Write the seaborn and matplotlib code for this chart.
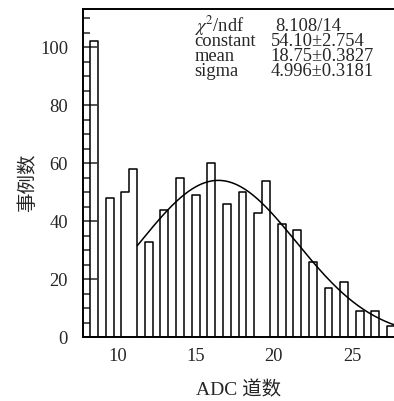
import numpy as np
import pandas as pd
import matplotlib
matplotlib.use("Agg")
import matplotlib.pyplot as plt
import seaborn as sns

# histogram contents (bin centre -> events), empty bins are left out
bin_centers = [8.5, 9.5, 10.5, 11.0, 12.0, 13.0, 14.0, 15.0, 16.0, 17.0, 18.0,
               19.0, 19.5, 20.5, 21.5, 22.5, 23.5, 24.5, 25.5, 26.5, 27.5]
bin_counts = [102, 48, 50, 58, 33, 44, 55, 49, 60, 46, 50,
              43, 54, 39, 37, 26, 17, 19, 9, 9, 4]
bin_width = 0.5

# gaussian fit shown on the plot
fit_constant = 54.10
fit_peak = 16.45      # peak position as drawn
fit_sigma = 4.996
fit_start = 11.27

chi2_name, chi2_value = r"$\chi^2$/ndf", "8.108/14"
stats_names = ["constant", "mean", "sigma"]
stats_values = ["54.10\u00b12.754", "18.75\u00b10.3827", "4.996\u00b10.3181"]

xticks = [10, 15, 20, 25]
yticks = [0, 20, 40, 60, 80, 100]

sns.set_style("ticks")
plt.rcParams['font.family'] = ['Liberation Serif', 'Noto Sans CJK SC']
plt.rcParams['mathtext.fontset'] = 'stix'
plt.rcParams['axes.unicode_minus'] = False

fig = plt.figure(figsize=(3.94, 4.01), dpi=100)
ax = fig.add_axes([0.2114, 0.1589, 0.7886, 0.8187])

hist_df = pd.DataFrame({"adc": bin_centers, "events": bin_counts})
sns.histplot(data=hist_df, x="adc", weights="events", binwidth=bin_width,
             binrange=(7.75, 27.75), element="step", fill=False,
             color="black", linewidth=1.1, ax=ax)

xs = np.linspace(fit_start, 28.0, 200)
ys = fit_constant * np.exp(-0.5 * ((xs - fit_peak) / fit_sigma) ** 2)
sns.lineplot(x=xs, y=ys, color="black", linewidth=1.1, ax=ax)

ax.set_xlim(7.815, 27.69)
ax.set_ylim(0, 113.2)
ax.set_xticks(xticks)
ax.set_yticks(yticks)
ax.set_yticks(np.arange(0, 113, 5), minor=True)
ax.tick_params(axis='x', length=0, pad=8, labelsize=13.3)
ax.tick_params(axis='y', which='major', direction='in', length=10, width=1.1,
               pad=11, labelsize=13.3)
ax.tick_params(axis='y', which='minor', direction='in', length=5, width=1.1)
ax.tick_params(axis='y', which='both', right=False)

for side in ['left', 'bottom', 'top']:
    ax.spines[side].set_linewidth(1.4)
    ax.spines[side].set_color('black')
ax.spines['right'].set_visible(False)

ax.set_xlabel("ADC 道数", fontsize=14)
ax.set_ylabel("事例数", fontsize=14)
ax.xaxis.set_label_coords(0.5, -0.133)
ax.yaxis.set_label_coords(-0.149, 0.47)

# fit statistics box: chi2 line on its own, the rest as two columns
W, H = 394.0, 401.0
fig.text(193.5 / W, 1 - 31 / H, chi2_name, fontsize=13.3, va='baseline')
fig.text(275.7 / W, 1 - 31 / H, chi2_value, fontsize=13.3, va='baseline')
fig.text(194.3 / W, 1 - 76 / H, "\n".join(stats_names), fontsize=13.3,
         va='baseline', linespacing=0.86)
fig.text(270.7 / W, 1 - 76 / H, "\n".join(stats_values), fontsize=13.3,
         va='baseline', linespacing=0.86)

fig.savefig("out.png", dpi=100)
plt.close(fig)
